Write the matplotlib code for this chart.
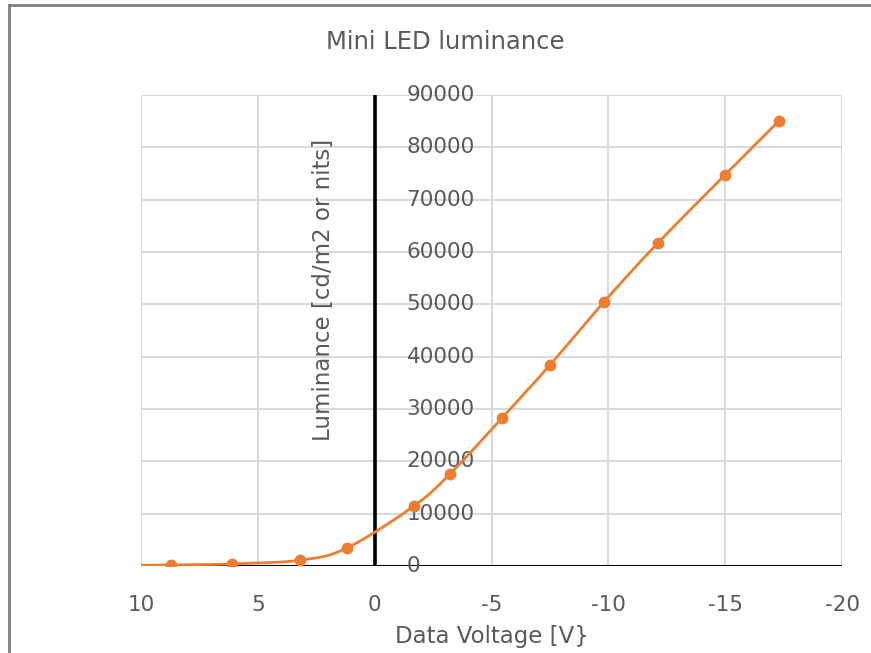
import numpy as np
import matplotlib
matplotlib.use("Agg")
import matplotlib.pyplot as plt
from matplotlib.lines import Line2D

plt.rcParams['font.family'] = ['DejaVu Sans']

# Mini LED luminance vs. data voltage
voltage = [11.0, 8.72, 6.10, 3.20, 1.19, -1.68, -3.22, -5.45, -7.50, -9.81, -12.12, -14.99, -17.30]
luminance = [100, 200, 400, 1100, 3440, 11470, 17580, 28280, 38400, 50450, 61720, 74720, 85040]

x_ticks = [10, 5, 0, -5, -10, -15, -20]
y_ticks = [0, 10000, 20000, 30000, 40000, 50000, 60000, 70000, 80000, 90000]

title = "Mini LED luminance"
x_label = "Data Voltage [V}"
y_label = "Luminance [cd/m2 or nits]"

ORANGE = "#ED7D31"
GRID = "#D9D9D9"
TEXT = "#595959"


def catmull_rom(xs, ys, n=40):
    """Smoothed path through the points (like a spreadsheet 'smoothed line')."""
    px = np.asarray(xs, float)
    py = np.asarray(ys, float)
    # normalise so the smoothing behaves similarly on both axes
    sx = np.ptp(px)
    sy = np.ptp(py)
    P = np.column_stack([px / sx, py / sy])
    P = np.vstack([P[0] - (P[1] - P[0]), P, P[-1] + (P[-1] - P[-2])])
    out = []
    for i in range(1, len(P) - 2):
        p0, p1, p2, p3 = P[i - 1], P[i], P[i + 1], P[i + 2]
        t = np.linspace(0, 1, n, endpoint=False)[:, None]
        seg = 0.5 * ((2 * p1) + (-p0 + p2) * t + (2 * p0 - 5 * p1 + 4 * p2 - p3) * t ** 2
                     + (-p0 + 3 * p1 - 3 * p2 + p3) * t ** 3)
        out.append(seg)
    out.append(P[-2][None, :])
    out = np.vstack(out)
    return out[:, 0] * sx, out[:, 1] * sy


W, H = 871, 653
fig = plt.figure(figsize=(W / 100, H / 100), dpi=100)
fig.patch.set_facecolor("white")

x0, x1 = 141, 842
y0, y1 = 566, 95
ax = fig.add_axes([x0 / W, 1 - y0 / H, (x1 - x0) / W, (y0 - y1) / H])
ax.set_xlim(10, -20)
ax.set_ylim(0, 90000)

for s in ax.spines.values():
    s.set_visible(False)

ax.set_xticks(x_ticks)
ax.set_yticks(y_ticks)
ax.grid(True, color=GRID, linewidth=1.4)
ax.set_axisbelow(True)
ax.tick_params(length=0, labelleft=False)
ax.set_xticklabels([f"{t:g}" for t in x_ticks], color=TEXT, fontsize=15.5)
ax.tick_params(axis='x', pad=21)

# edge gridlines of the plot area
ax.axvline(-20, color=GRID, lw=1.4, zorder=1)
ax.axhline(90000, color=GRID, lw=1.4, zorder=1)

# axes crossing at the origin
ax.axhline(0, color="black", lw=2.2, zorder=2)
ax.axvline(0, color="black", lw=2.6, zorder=2)

# y tick labels sit just right of the vertical axis
for v in y_ticks:
    ax.annotate(f"{v}", xy=(0, v), xytext=(23, 0), textcoords="offset points",
                ha="left", va="center", fontsize=15.5, color=TEXT,
                annotation_clip=False)

sx, sy = catmull_rom(voltage, luminance)
ax.plot(sx, sy, color=ORANGE, lw=2.0, zorder=3, clip_on=True)
ax.plot(voltage, luminance, linestyle="none", marker="o", markersize=7.5,
        color=ORANGE, zorder=4, clip_on=True)

fig.text(445 / W, 1 - 42 / H, title, ha="center", va="center", fontsize=17.5, color=TEXT)
fig.text(492 / W, 1 - 636 / H, x_label, ha="center", va="center", fontsize=16.5, color=TEXT)
fig.text(323 / W, 1 - 290 / H, y_label, ha="center", va="center", rotation=90,
         fontsize=16.5, color=TEXT)

# chart-area frame (top and left edges visible)
fig.add_artist(Line2D([9 / W, 1.0], [1 - 5 / H, 1 - 5 / H], transform=fig.transFigure,
                      color="#7F7F7F", lw=2))
fig.add_artist(Line2D([9 / W, 9 / W], [0.0, 1 - 5 / H], transform=fig.transFigure,
                      color="#7F7F7F", lw=2))

fig.savefig("out.png", dpi=100, facecolor="white")
